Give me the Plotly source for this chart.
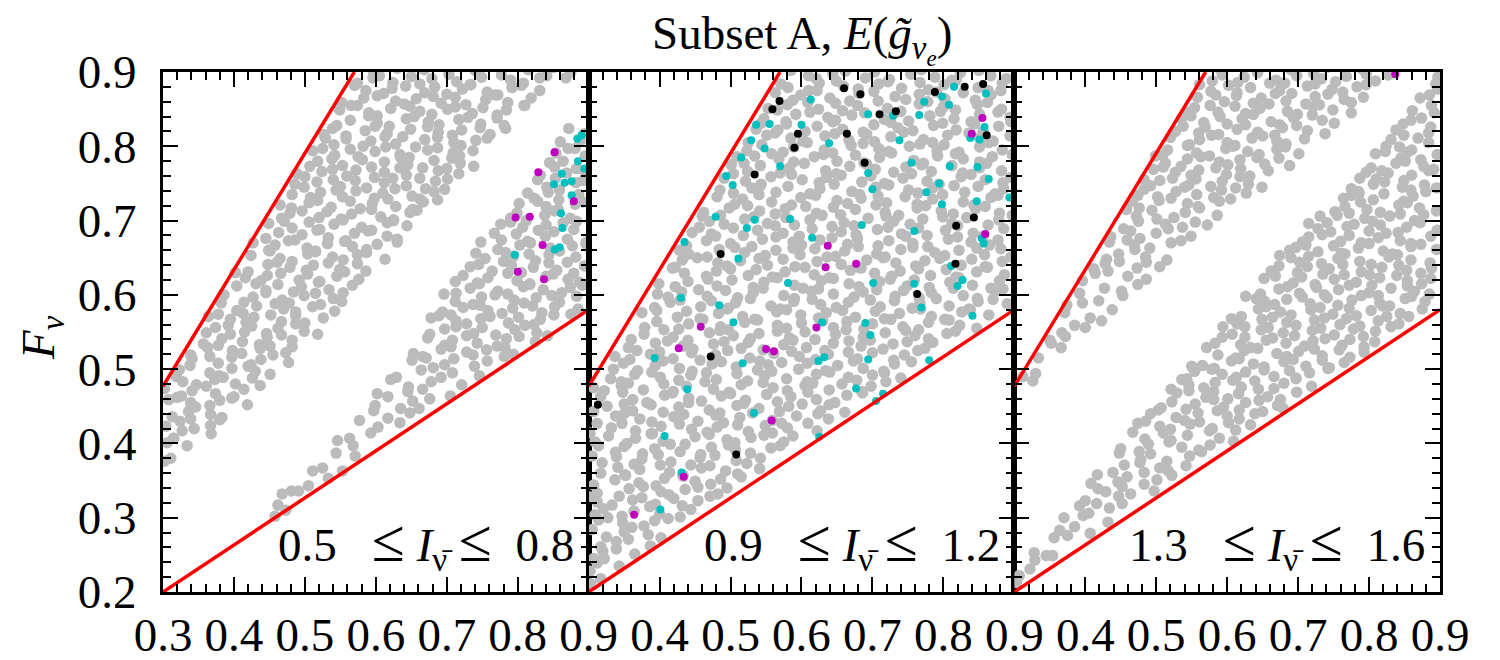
import plotly.graph_objects as go

# ---------------- data (coordinates in thousandths: x = I_nu, y = F_nu) ----------------
X_TICKS_FIRST = [0.3, 0.4, 0.5, 0.6, 0.7, 0.8, 0.9]
X_TICKS_OTHER = [0.4, 0.5, 0.6, 0.7, 0.8, 0.9]
X_TICK_TEXT_FIRST = ["0.3", "0.4", "0.5", "0.6", "0.7", "0.8", "0.9"]
X_TICK_TEXT_OTHER = ["0.4", "0.5", "0.6", "0.7", "0.8", "0.9"]
Y_TICKS = [0.2, 0.3, 0.4, 0.5, 0.6, 0.7, 0.8, 0.9]
Y_TICK_TEXT = ["0.2", "0.3", "0.4", "0.5", "0.6", "0.7", "0.8", "0.9"]

PANEL_LABELS = ["0.5", "0.8", "0.9", "1.2", "1.3", "1.6"]

# red boundary lines (same in every panel)
UPPER_LINE_X = [0.3, 0.5697]
UPPER_LINE_Y = [0.477, 0.9]
LOWER_LINE_X = [0.3, 0.9]
LOWER_LINE_Y = [0.2, 0.58]

# ---- panel 1 ----
P1_GRAY_UPPER = [
    (302,376),(311,380),(306,401),(315,407),(334,397),(315,407),(327,417),(344,420),(368,413),
    (304,423),(324,430),(339,433),(367,424),(380,432),(313,436),(336,443),(346,449),(367,439),(383,435),
    (308,459),(320,462),(339,455),(366,451),(380,458),(397,461),(419,452),
    (302,474),(326,464),(341,471),(361,477),(374,467),(400,463),(414,473),
    (319,490),(328,483),(347,479),(373,486),(385,489),(402,480),(426,488),(437,478),
    (323,499),(338,505),(366,495),(379,491),(397,501),(420,504),(430,497),(451,493),
    (341,514),(366,517),(378,508),(397,516),(424,506),(438,513),(455,519),(477,509),
    (339,519),(363,529),(378,532),(398,525),(411,521),(437,528),(451,531),(473,522),(482,530),
    (357,534),(383,541),(395,547),(412,537),(436,533),(447,543),(467,546),(482,539),
    (361,549),(374,556),(392,559),(415,550),(425,558),(446,548),(462,555),(487,561),(499,551),(518,547),
    (364,571),(378,574),(395,567),(417,563),(428,570),(452,573),(467,564),(487,572),(500,562),(526,569),
    (382,589),(404,579),(413,575),(432,585),(458,588),(470,581),(487,577),(511,584),(522,587),(542,578),
    (386,600),(414,590),(427,597),(445,603),(468,593),(478,589),(499,599),(515,602),(540,595),(552,591),
    (404,612),(431,615),(445,606),(462,614),(484,604),(495,611),(519,617),(534,607),(554,603),(567,613),
    (402,630),(416,623),(438,619),(447,626),(466,629),(492,620),(504,628),(521,618),(545,625),(556,631),(576,621),
    (420,631),(448,641),(461,644),(479,637),(502,633),(512,640),(533,643),(549,634),(574,642),(586,632),
    (424,653),(451,659),(465,649),(482,645),(504,655),(515,658),(539,651),(554,647),(574,654),(587,657),(613,648),
    (427,670),(449,660),(458,667),(477,673),(503,663),(515,659),(532,669),(556,672),(567,665),(587,661),(602,668),(630,671),
    (445,676),(463,684),(486,674),(496,681),(517,687),(533,677),(558,673),(570,683),(589,686),(616,679),(630,675),
    (449,696),(471,699),(482,690),(506,698),(521,688),(541,695),(554,701),(580,691),(594,687),(616,697),(625,700),(644,693),
    (467,703),(479,710),(496,713),(520,704),(531,712),(551,702),(566,709),(594,715),(607,705),(625,701),(648,711),(658,714),
    (465,721),(481,717),(506,724),(518,727),(537,718),(564,726),(578,716),(595,723),(617,729),(628,719),(652,715),(667,725),(687,728),
    (482,735),(508,731),(522,738),(544,741),(553,732),(572,740),(598,730),(610,737),(627,743),(651,733),(662,729),(682,739),(697,742),
    (486,749),(499,745),(517,752),(540,755),(550,746),(571,754),(587,744),(612,751),(624,757),(643,747),(670,743),(684,753),(701,756),
    (489,763),(500,759),(524,766),(539,769),(559,760),(572,768),(598,758),(612,765),(634,771),(643,761),(662,757),(688,767),(700,770),(717,763),
    (507,773),(518,780),(538,783),(553,774),(581,782),(594,772),(612,779),(635,785),(645,775),(666,771),(682,781),(707,784),(719,777),(738,773),
    (511,794),(525,797),(542,788),(564,796),(575,786),(599,793),(614,799),(634,789),(647,785),(673,795),(687,798),(709,791),(718,787),(737,794),
    (529,811),(541,802),(558,810),(582,800),(593,807),(613,813),(628,803),(656,799),(669,809),(687,812),(710,805),(720,801),(741,808),(757,811),
    (527,816),(539,824),(558,814),(585,821),(599,827),(616,817),(638,813),(649,823),(673,826),(688,819),(708,815),(721,822),(747,825),(761,816),(783,824),
    (545,828),(564,835),(590,841),(602,831),(619,827),(643,837),(654,840),(674,833),(689,829),(717,836),(730,839),(748,830),(771,838),(781,828),
    (549,849),(565,855),(590,845),(602,841),(621,851),(648,854),(662,847),(679,843),(701,850),(712,853),(736,844),(751,852),(771,842),(784,849),(810,855),
    (552,859),(574,855),(583,865),(602,868),(628,861),(640,857),(657,864),(681,867),(692,858),(712,866),(727,856),(755,863),(768,869),(786,859),(809,855),(819,865),
    (570,882),(586,875),(611,871),(623,878),(642,881),(669,872),(683,880),(700,870),(722,877),(733,883),(757,873),(772,869),(792,879),(805,882),(831,875),
    (574,885),(596,892),(605,895),(624,886),(650,894),(662,884),(679,891),(703,897),(714,887),(734,883),(749,893),(777,896),(790,889),(808,885),(831,892),(841,895),
    (868,892),(875,900),(596,902),(630,905),(668,903),(705,906),(740,902),(778,905),(815,903),(850,906),
]
P1_GRAY_LOWER = [
    (458,302),(462,317),(473,310),(468,332),(491,336),(481,336),(505,343),(511,363),(533,353),
    (525,367),(553,363),(544,387),(571,383),(546,404),(568,397),(563,407),(593,414),
    (577,431),(603,422),(634,428),(597,444),(617,434),(648,441),(661,447),
    (599,451),(635,447),(652,457),(676,460),(602,467),(617,463),(645,470),(666,473),(705,464),
    (621,486),(646,476),(678,483),(692,489),(721,479),(629,489),(664,499),(681,502),(708,495),(746,491),
    (651,512),(671,515),(697,506),(710,514),(739,504),(757,511),(781,517),
    (653,521),(666,517),(692,527),(706,530),(728,523),(737,519),(756,526),(782,529),(794,520),
    (673,542),(697,532),(708,539),(728,545),(743,535),(771,531),(784,541),(802,544),(825,537),
    (676,547),(697,554),(713,557),(738,548),(750,556),(769,546),(796,553),(810,559),(827,549),(842,545),
    (678,569),(689,572),(713,565),(728,561),(748,568),(761,571),(787,562),(801,570),(823,560),(832,567),(851,573),
    (694,577),(706,573),(723,583),(747,586),(758,579),(778,575),(793,582),(821,585),(834,576),(852,584),(875,574),(885,581),
    (696,601),(712,591),(737,587),(749,597),(768,600),(795,593),(809,589),(826,596),(848,599),(859,590),(883,598),
    (713,602),(733,609),(746,615),(772,605),(786,601),(808,611),(817,614),(836,607),(862,603),(874,610),(891,613),
    (712,618),(723,626),(743,616),(758,623),(786,629),(799,619),(817,615),(840,625),(850,628),(871,621),(887,617),
    (733,638),(745,641),(764,632),(791,640),(805,630),(822,637),(844,643),(855,633),(879,629),(894,639),
    (741,656),(754,649),(780,645),(794,652),(816,655),(825,646),(844,654),(870,644),(882,651),
    (748,671),(772,661),(783,657),(803,667),(818,670),(846,663),(859,659),(877,666),(896,669),
    (767,683),(777,674),(798,682),(814,672),(839,679),(851,685),(870,675),(897,671),
    (776,695),(790,698),(807,691),(829,687),(840,694),(864,697),(879,688),
    (799,710),(812,700),(838,707),(852,713),(874,703),(883,699),(790,703),
    (802,723),(828,726),(840,719),(857,715),(881,722),(892,725),
    (823,730),(843,738),(858,728),(886,735),(814,737),
    (828,755),(841,745),(859,741),(882,751),(892,754),
    (832,761),(853,757),(869,764),(894,767),(852,772),(864,780),(883,770),(845,778),
    (854,791),(881,797),(895,787),(871,797),(888,807),(860,806),(872,824),(894,817),
]
P1_CYAN = [(884,810),(890,815),(851,749),(866,751),(876,753),(862,763),(885,780),(876,734),
           (861,710),(863,690),(852,661),(859,664),(796,654),(894,770)]
P1_MAGENTA = [(852,792),(829,765),(797,704),(817,705),(879,726),(835,667),(837,621),(800,631)]

# ---- panel 2 ----
P2_GRAY = [
    (303,211),(302,228),(317,218),(312,239),(322,245),(343,235),
    (307,245),(320,255),(339,258),(365,251),(317,261),(339,268),(356,271),(387,262),
    (305,284),(325,274),(350,281),(361,287),(384,277),(402,273),
    (314,297),(327,300),(348,293),(378,289),(393,296),(412,299),
    (309,304),(321,312),(347,302),(364,309),(386,315),(400,305),(429,301),(444,311),
    (302,328),(312,321),(333,317),(362,324),(375,327),(394,318),(420,326),(432,316),(454,323),(471,329),
    (312,333),(343,329),(357,339),(377,342),(402,335),(413,331),(436,338),(454,341),(482,332),(495,340),
    (307,344),(337,351),(352,357),(371,347),(395,343),(407,353),(433,356),(450,349),(472,345),(486,352),(515,355),
    (317,360),(341,368),(351,358),(372,365),(401,371),(414,361),(433,357),(459,367),(471,370),(493,363),(510,359),(541,366),
    (305,383),(319,374),(339,382),(364,372),(375,379),(398,385),(416,375),(444,371),(457,381),(478,384),(508,377),(523,373),(542,380),
    (314,397),(338,388),(350,396),(376,386),(393,393),(415,399),(429,389),(458,385),(473,395),(497,398),(507,391),(528,387),(557,394),(570,397),
    (309,402),(328,410),(354,400),(366,407),(388,413),(405,403),(436,399),(450,409),(470,412),(495,405),(506,401),(529,408),(547,411),(575,402),(588,410),
    (302,414),(332,421),(347,427),(366,417),(390,413),(402,423),(428,426),(445,419),(467,415),(481,422),(510,425),(525,416),(549,424),(559,414),(580,421),(609,427),(622,417),
    (312,427),(338,437),(350,440),(372,433),(389,429),(420,436),(434,439),(454,430),(479,438),(490,428),(513,435),(531,441),(559,431),(572,427),(593,437),(623,440),(638,433),
    (307,443),(326,450),(350,453),(362,444),(388,452),(405,442),(427,449),(441,455),(470,445),(485,441),(509,451),(519,454),(540,447),(569,443),(582,450),(601,453),(627,444),(639,452),(661,442),
    (317,463),(348,469),(362,459),(382,455),(407,465),(418,468),(441,461),(459,457),(487,464),(500,467),(521,458),(551,466),(566,456),(585,463),(609,469),(621,459),(647,455),(664,465),(686,468),
    (307,475),(322,471),(346,478),(356,481),(377,472),(406,480),(419,470),(438,477),(464,483),(476,473),(498,469),(515,479),(546,482),(560,475),(580,471),(605,478),(616,481),(639,472),(657,480),(685,470),(698,477),(719,483),
    (331,487),(346,483),(365,493),(389,496),(401,489),(427,485),(444,492),(466,495),(480,486),(509,494),(524,484),(548,491),(558,497),(579,487),(608,483),(621,493),(640,496),(666,489),(678,485),(700,492),(717,495),(740,488),
    (335,500),(349,508),(369,498),(394,505),(405,511),(428,501),(446,497),(474,507),(487,510),(508,503),(538,499),(553,506),(572,509),(596,500),(608,508),(634,498),(651,505),(673,511),(687,501),(716,497),(731,507),(755,510),
    (337,517),(358,513),(387,520),(400,523),(419,514),(445,522),(457,512),(479,519),(496,525),(527,515),(541,511),(561,521),(586,524),(597,517),(620,513),(638,520),(666,523),(679,514),(700,522),(730,512),(745,519),(764,525),
    (356,529),(368,525),(394,535),(411,538),(433,531),(447,527),(476,534),(491,537),(515,528),(525,536),(546,526),(575,533),(588,539),(607,529),(633,525),(645,535),(667,538),(684,531),(715,527),(729,534),(749,537),(774,528),(785,536),
    (360,540),(378,547),(406,553),(419,543),(440,539),(470,549),(485,552),(504,545),(528,541),(540,548),(566,551),(583,542),(605,550),(619,540),(648,547),(663,553),(687,543),(697,539),(718,549),(747,552),(760,545),(779,541),(805,548),(817,551),
    (379,556),(396,564),(427,554),(441,561),(461,567),(486,557),(497,553),(520,563),(538,566),(566,559),(579,555),(600,562),(630,565),(645,556),(664,564),(688,554),(700,561),(726,567),(743,557),(765,553),(779,563),(808,566),(823,559),(847,555),
    (375,576),(396,579),(425,570),(438,578),(457,568),(483,575),(495,581),(517,571),(534,567),(565,577),(579,580),(599,573),(624,569),(635,576),(658,579),(676,570),(704,578),(717,568),(738,575),(768,581),(783,571),(802,567),(826,577),(838,580),(864,573),
    (393,583),(415,590),(429,593),(458,584),(473,592),(497,582),(507,589),(528,595),(557,585),(570,581),(589,591),(615,594),(627,587),(649,583),(666,590),(697,593),(711,584),(731,592),(756,582),(767,589),(790,595),(808,585),(836,581),(849,591),(870,594),(890,588),
    (397,601),(412,597),(431,604),(455,607),(467,598),(493,606),(510,596),(532,603),(546,609),(575,599),(590,595),(614,605),(624,608),(645,601),(674,597),(687,604),(706,607),(732,598),(744,606),(766,596),(783,603),(814,609),(828,599),(848,595),(873,605),(884,608),
    (399,615),(422,611),(440,618),(468,621),(481,612),(502,620),(532,610),(547,617),(566,623),(590,613),(602,609),(628,619),(645,622),(667,615),(681,611),(710,618),(725,621),(749,612),(759,620),(780,610),(809,617),(822,623),(841,613),(867,609),(879,619),
    (418,636),(435,629),(466,625),(480,632),(500,635),(525,626),(536,634),(559,624),(577,631),(605,637),(618,627),(639,623),(669,633),(684,636),(703,629),(727,625),(739,632),(765,635),(782,626),(804,634),(818,624),(847,631),(862,637),(886,627),
    (422,637),(432,647),(453,650),(482,643),(495,639),(514,646),(540,649),(552,640),(574,648),(591,638),(622,645),(636,651),(656,641),(681,637),(692,647),(715,650),(733,643),(761,639),(774,646),(795,649),(825,640),(840,648),(859,638),(883,645),(895,651),
    (428,660),(441,655),(467,651),(484,661),(506,664),(520,657),(549,653),(564,660),(588,663),(598,654),(619,662),(648,652),(661,659),(680,665),(706,655),(718,651),(740,661),(757,664),(788,657),(802,653),(822,660),(847,663),(858,654),(881,662),
    (438,666),(466,673),(479,679),(500,669),(530,665),(545,675),(564,678),(588,671),(600,667),(626,674),(643,677),(665,668),(679,676),(708,666),(723,673),(747,679),(757,669),(778,665),(807,675),(820,678),(839,671),(865,667),(877,674),
    (446,684),(456,691),(473,682),(504,690),(518,680),(538,687),(563,693),(574,683),(597,679),(615,689),(643,692),(656,685),(677,681),(707,688),(722,691),(741,682),(765,690),(777,680),(803,687),(820,693),(842,683),(856,679),(885,689),
    (460,706),(470,699),(491,695),(520,702),(533,705),(552,696),(578,704),(590,694),(612,701),(629,707),(660,697),(674,693),(694,703),(719,706),(730,699),(753,695),(771,702),(799,705),(812,696),(833,704),(863,694),(878,701),(897,707),
    (462,711),(486,707),(498,717),(524,720),(541,713),(563,709),(577,716),(606,719),(621,710),(645,718),(655,708),(676,715),(705,721),(718,711),(737,707),(763,717),(775,720),(797,713),(814,709),(845,716),(859,719),(879,710),
    (481,732),(506,722),(517,729),(540,735),(558,725),(586,721),(599,731),(620,734),(650,727),(665,723),(684,730),(708,733),(720,724),(746,732),(763,722),(785,729),(799,735),(828,725),(843,721),(867,731),(877,734),
    (485,741),(504,737),(530,744),(542,747),(564,738),(581,746),(612,736),(626,743),(646,749),(671,739),(682,735),(705,745),(723,748),(751,741),(764,737),(785,744),(815,747),(830,738),(849,746),(873,736),(885,743),
    (491,757),(504,763),(521,753),(543,749),(557,759),(586,762),(601,755),(625,751),(635,758),(656,761),(685,752),(698,760),(717,750),(743,757),(755,763),(777,753),(794,749),(825,759),(839,762),(859,755),(884,751),(895,758),
    (501,775),(524,766),(542,774),(570,764),(583,771),(604,777),(634,767),(649,763),(668,773),(692,776),(704,769),(730,765),(747,772),(769,775),(783,766),(812,774),(827,764),(851,771),(861,777),(882,767),
    (509,786),(519,777),(534,787),(558,790),(568,783),(589,779),(618,786),(631,789),(650,780),(676,788),(688,778),(710,785),(727,791),(758,781),(772,777),(792,787),(817,790),(828,783),(851,779),(869,786),(897,789),
    (523,794),(544,802),(574,792),(589,799),(608,805),(632,795),(644,791),(670,801),(687,804),(709,797),(723,793),(752,800),(767,803),(791,794),(801,802),(822,792),(851,799),(864,805),(883,795),
    (525,805),(551,815),(563,818),(585,811),(602,807),(633,814),(647,817),(667,808),(692,816),(703,806),(726,813),(744,819),(772,809),(785,805),(806,815),(836,818),(851,811),(870,807),(894,814),
    (536,823),(543,831),(567,822),(579,830),(605,820),(622,827),(644,833),(658,823),(687,819),(702,829),(726,832),(736,825),(757,821),(786,828),(799,831),(818,822),(844,830),(856,820),(878,827),(895,833),
    (547,837),(578,833),(592,843),(612,846),(637,839),(648,835),(671,842),(689,845),(717,836),(730,844),(751,834),(781,841),(796,847),(815,837),(839,833),(851,843),(877,846),(894,839),
    (553,851),(566,849),(580,856),(609,859),(624,850),(648,858),(658,848),(679,855),(708,861),(721,851),(740,847),(766,857),(778,860),(800,853),(817,849),(848,856),(862,859),(882,850),
    (563,872),(588,862),(599,869),(622,875),(640,865),(668,861),(681,871),(702,874),(732,867),(747,863),(766,870),(790,873),(802,864),(828,872),(845,862),(867,869),(881,875),
    (571,884),(581,879),(610,875),(625,885),(649,888),(659,881),(680,877),(709,884),(722,887),(741,878),(767,886),(779,876),(801,883),(818,889),(849,879),(863,875),(883,885),
    (585,902),(610,895),(621,891),(644,898),(662,901),(690,892),(703,900),(724,890),(754,897),(769,903),(788,893),(812,889),(824,899),(850,902),(867,895),(889,891),
]
P2_CYAN = [
    (613,863),(860,871),(815,880),(798,867),(773,860),(808,856),(766,842),(694,843),(729,841),
    (536,829),(555,830),(600,829),(858,826),(838,811),(851,809),(529,808),(738,808),(639,804),
    (548,797),(515,785),(570,773),(755,778),(809,773),(848,772),(494,760),(503,748),(694,764),
    (700,742),(864,756),(776,738),(798,722),(794,750),(847,726),(893,731),(479,705),(534,701),
    (584,702),(523,690),(685,694),(759,686),(615,677),(854,676),(857,669),(435,671),(511,649),
    (811,639),(581,616),(701,616),(759,615),(827,620),(820,612),(430,596),(484,586),(769,583),
    (841,572),(504,563),(629,563),(690,562),(697,546),
    (393,515),(517,508),(632,516),(624,511),(694,513),(439,473),(677,474),(715,467),(705,457),
    (407,410),(625,409),(533,441),(431,361),(401,311),(780,512),
]
P2_MAGENTA = [(855,838),(840,817),(637,666),(634,637),(677,642),(859,682),(458,557),(621,556),
              (427,528),(550,527),(561,524),(364,304),(434,355),(558,431)]
P2_BLACK = [(569,861),(559,850),(683,870),(788,873),(830,880),(856,884),(733,847),(710,843),
            (595,817),(664,817),(861,815),(590,798),(689,778),(534,762),(843,704),(818,693),
            (817,642),(486,655),(763,601),(660,878),(472,517),(508,385),(313,452)]

# ---- panel 3 ----
P3_GRAY_UPPER = [
    (312,490),(326,484),(330,494),(334,515),(352,535),(366,529),(350,539),(372,544),
    (367,549),(385,559),(400,556),(371,576),(407,569),(423,565),
    (374,586),(396,589),(438,580),(392,602),(419,592),(453,599),
    (396,619),(427,609),(451,605),(474,614),(414,629),(432,632),(460,625),(486,621),
    (412,635),(428,642),(448,645),(473,636),(486,644),(505,638),
    (430,648),(447,655),(470,661),(485,651),(515,647),
    (434,671),(459,674),(469,667),(491,663),(521,670),(535,673),
    (436,678),(464,686),(477,676),(500,683),(517,689),(549,679),
    (454,689),(475,699),(501,702),(513,695),(537,691),(555,698),(572,694),
    (458,715),(472,706),(494,714),(525,704),(541,711),(561,717),(586,707),
    (476,717),(466,726),(504,727),(521,730),(544,723),(559,719),(589,726),(605,729),
    (474,734),(483,742),(502,732),(528,739),(540,745),(557,735),(581,731),(592,741),(612,744),(627,737),
    (492,747),(483,755),(505,754),(523,757),(546,748),(556,756),(577,746),(593,753),(618,759),(630,749),(649,745),
    (496,769),(510,772),(527,765),(549,761),(560,768),(584,771),(599,762),(619,770),(632,760),(658,767),
    (499,787),(513,777),(535,773),(544,783),(563,786),(589,779),(601,775),(618,782),(642,785),(653,776),(673,784),(688,774),
    (509,788),(516,795),(544,801),(557,791),(575,787),(598,797),(608,800),(629,793),(645,789),(670,796),(682,799),(701,790),
    (520,812),(547,802),(561,809),(578,815),(600,805),(611,801),(635,811),(650,814),(670,807),(683,803),(709,810),
    (527,820),(538,827),(560,818),(569,826),(588,816),(614,823),(626,829),(643,819),(667,815),(678,825),(698,828),(713,821),(738,817),
    (536,838),(549,841),(567,832),(590,840),(600,830),(621,837),(637,843),(662,833),(674,829),(693,839),(720,842),(734,835),(751,831),
    (546,846),(554,852),(576,855),(587,846),(611,854),(626,844),(646,851),(659,857),(685,847),(699,843),(721,853),(730,856),(749,849),(775,845),
    (558,866),(584,869),(596,860),(613,868),(637,858),(648,865),(668,871),(683,861),(711,857),(724,867),(742,870),(765,863),(775,859),(792,866),
    (561,883),(577,874),(602,882),(614,872),(633,879),(660,885),(674,875),(691,871),(713,881),(724,884),(748,877),(763,873),(783,880),(796,883),
    (579,888),(593,896),(615,886),(624,893),(643,899),(669,889),(681,885),(698,895),(722,898),(733,891),(753,887),(768,894),(796,897),(809,888),(827,896),
    (590,904),(640,905),(690,903),(740,906),(790,904),(825,903),
]
P3_GRAY_LOWER = [
    (303,213),(307,222),(322,231),(329,243),(345,249),(328,253),(354,249),(356,273),(375,276),
    (364,283),(385,288),(407,279),(370,300),(397,303),(432,294),
    (392,316),(405,306),(434,313),(452,319),(400,323),(416,319),(447,329),(464,332),
    (408,346),(418,339),(429,335),(452,342),(483,345),(497,336),
    (417,358),(446,348),(459,355),(483,361),(501,351),(522,357),
    (439,361),(455,371),(477,374),(505,367),(517,363),(542,370),
    (448,387),(478,378),(492,386),(515,376),(547,383),(564,389),
    (450,393),(476,389),(489,399),(518,402),(536,395),(560,391),(576,398),
    (467,415),(484,406),(510,414),(521,404),(544,411),(575,417),(589,407),(609,403),
    (474,427),(485,430),(505,423),(520,419),(548,426),(561,429),(579,420),(602,428),(612,418),(633,425),
    (492,440),(503,445),(528,435),(540,431),(559,441),(586,444),(600,437),(617,433),(639,440),(650,443),
    (507,448),(522,456),(542,446),(555,453),(581,459),(595,449),(617,445),(626,455),(645,458),(671,451),(679,447),
    (521,473),(529,468),(546,471),(570,462),(581,470),(601,460),(616,467),(644,473),(657,463),(675,459),(698,469),
    (536,486),(546,479),(567,475),(583,482),(608,485),(620,476),(639,484),(666,474),(680,481),(697,487),(719,477),
    (543,487),(554,497),(578,500),(593,493),(613,489),(626,496),(652,499),(666,490),(688,498),(697,488),(716,495),(742,501),
    (550,504),(565,505),(582,501),(606,511),(617,514),(637,507),(652,503),(680,510),(693,513),(711,504),(734,512),(744,502),(765,509),
    (571,529),(587,519),(612,515),(624,525),(643,528),(670,521),(684,517),(701,524),(723,527),(734,518),(758,526),(773,516),(793,523),
    (583,535),(593,543),(619,533),(633,529),(655,539),(664,542),(683,535),(709,531),(721,538),(738,541),(762,532),(773,540),(793,530),(808,537),
    (594,557),(607,547),(625,543),(648,553),(658,556),(679,549),(695,545),(720,552),(732,555),(751,546),(778,554),(792,544),(809,551),(831,557),
    (606,568),(614,561),(625,557),(649,567),(664,570),(684,563),(697,559),(723,566),(737,569),(759,560),(768,568),(787,558),(813,565),(825,571),(842,561),
    (620,571),(644,581),(655,584),(675,577),(690,573),(718,580),(731,583),(749,574),(772,582),(782,572),(803,579),(819,585),(844,575),(856,571),(875,581),
    (626,598),(641,595),(653,591),(667,587),(684,594),(706,597),(717,588),(741,596),(756,586),(776,593),(789,599),(815,589),(829,585),(851,595),(860,598),(879,591),
    (647,601),(673,608),(685,611),(702,602),(726,610),(737,600),(757,607),(772,613),(800,603),(813,599),(831,609),(854,612),(864,605),(885,601),
    (652,622),(668,625),(693,616),(705,624),(724,614),(751,621),(765,627),(782,617),(804,613),(815,623),(839,626),(854,619),(874,615),(887,622),
    (662,632),(673,639),(699,630),(713,638),(735,628),(744,635),(763,641),(789,631),(801,627),(818,637),(842,640),(853,633),(873,629),(888,636),
    (674,653),(690,650),(702,644),(715,652),(733,642),(756,649),(766,655),(787,645),(803,641),(828,651),(840,654),(859,647),(886,643),
    (688,660),(697,664),(711,667),(728,658),(750,666),(761,656),(785,663),(800,669),(820,659),(833,655),(859,665),(873,668),(895,661),
    (706,671),(715,678),(734,681),(760,672),(772,680),(789,670),(813,677),(824,683),(844,673),(859,669),(887,679),
    (715,696),(728,689),(746,685),(769,692),(779,695),(800,686),(816,694),(841,684),(853,691),(872,697),(896,687),
    (731,706),(741,697),(755,707),(772,710),(794,703),(805,699),(829,706),(844,709),(864,700),(877,708),
    (752,712),(766,719),(788,725),(797,715),(816,711),(842,721),(854,724),(871,717),(895,713),
    (764,730),(775,734),(786,737),(806,728),(821,736),(849,726),(862,733),(880,739),
    (775,743),(785,739),(806,749),(822,752),(847,745),(859,741),(878,748),(895,744),
    (787,757),(796,765),(810,756),(827,764),(849,754),(860,761),(884,767),
    (803,771),(818,767),(838,777),(851,780),(877,773),(891,769),
    (809,790),(823,793),(845,784),(854,792),(873,782),(896,789),
    (824,800),(831,809),(843,799),(860,795),(884,805),(838,822),(849,815),(869,811),(884,818),
    (848,830),(859,835),(887,826),(861,848),(874,838),(892,845),(872,865),(888,855),(885,869),(896,877),(894,884),(897,893),
]
P3_MAGENTA = [(837,897)]

# ---------------- figure ----------------
FONT = "Liberation Serif"
GRAY = "#bbbbbb"
CYAN = "#00bfbf"
MAGENTA = "#bf00bf"
MS = 11.5

fig = go.Figure()


def add_pts(pts, color, k, size=MS):
    if not pts:
        return
    fig.add_trace(go.Scatter(
        x=[p[0] / 1000 for p in pts], y=[p[1] / 1000 for p in pts],
        mode="markers", marker=dict(size=size, color=color, line=dict(width=0)),
        xaxis="x" if k == 1 else f"x{k}", yaxis="y" if k == 1 else f"y{k}",
        showlegend=False, hoverinfo="skip"))


def add_lines(k):
    for lx, ly in ((UPPER_LINE_X, UPPER_LINE_Y), (LOWER_LINE_X, LOWER_LINE_Y)):
        fig.add_trace(go.Scatter(
            x=lx, y=ly, mode="lines", line=dict(color="#ff0000", width=3.5),
            xaxis="x" if k == 1 else f"x{k}", yaxis="y" if k == 1 else f"y{k}",
            showlegend=False, hoverinfo="skip"))


add_pts(P1_GRAY_UPPER, GRAY, 1)
add_pts(P1_GRAY_LOWER, GRAY, 1)
add_pts(P1_CYAN, CYAN, 1, 8)
add_pts(P1_MAGENTA, MAGENTA, 1, 8)
add_lines(1)

add_pts(P2_GRAY, GRAY, 2)
add_pts(P2_CYAN, CYAN, 2, 8)
add_pts(P2_MAGENTA, MAGENTA, 2, 8)
add_pts(P2_BLACK, "#000000", 2, 8)
add_lines(2)

add_pts(P3_GRAY_UPPER, GRAY, 3)
add_pts(P3_GRAY_LOWER, GRAY, 3)
add_pts(P3_MAGENTA, MAGENTA, 3, 8)
add_lines(3)

tickfont = dict(family=FONT, size=47, color="black")
minor = dict(ticks="inside", ticklen=8, tickwidth=1.5, tickcolor="black", dtick=0.02, tick0=0.2)


def xaxis(domain, vals, texts, anchor):
    return dict(domain=domain, range=[0.3, 0.9], anchor=anchor, automargin=False,
                tickmode="array", tickvals=vals, ticktext=texts,
                ticks="inside", ticklen=15, tickwidth=2, tickcolor="black",
                minor=minor, showline=True, linewidth=3, linecolor="black",
                mirror="allticks", showgrid=False, zeroline=False,
                tickfont=tickfont, ticklabelstandoff=0)


def yaxis(anchor, show):
    return dict(domain=[0, 1], range=[0.2, 0.9], anchor=anchor, automargin=False,
                tickmode="array", tickvals=Y_TICKS, ticktext=Y_TICK_TEXT,
                showticklabels=show,
                ticks="inside", ticklen=15, tickwidth=2, tickcolor="black",
                minor=minor, showline=True, linewidth=3, linecolor="black",
                mirror="allticks", showgrid=False, zeroline=False,
                tickfont=tickfont, ticklabelstandoff=14)


third = 1 / 3
NB = "\u00a0"
LE = "<span style='font-size:60px'>≤</span>"
ann_font = dict(family=FONT, size=47, color="black")
annotations = [
    dict(text="Subset A, <i>E</i>(<i>g̃</i><sub><i>ν</i><sub><i>e</i></sub></sub>)",
         x=0.5, y=1.064, xref="paper", yref="paper", xanchor="center", yanchor="middle",
         showarrow=False, font=dict(family=FONT, size=47, color="black")),
    dict(text="<i>F</i><sub><i>ν</i></sub>", x=-0.095, y=0.49, xref="paper", yref="paper",
         textangle=-90, xanchor="center", yanchor="middle", showarrow=False, font=ann_font),
]
for k in range(3):
    lo, hi = PANEL_LABELS[2 * k], PANEL_LABELS[2 * k + 1]
    annotations.append(dict(
        text=f"{lo}{NB}{NB}{NB}{LE}{NB}<i>I</i><sub>ν̄</sub>{NB}{LE}{NB}{NB}{hi}",
        x=0.882, y=0.216, xref="x" if k == 0 else f"x{k+1}", yref="y" if k == 0 else f"y{k+1}",
        xanchor="right", yanchor="bottom", showarrow=False, font=ann_font))

# the page adds an 8 px body margin, so the figure is 8 px smaller on each side
fig.update_layout(
    width=1492, height=652, autosize=False,
    margin=dict(l=155, r=60, t=64, b=68),
    paper_bgcolor="white", plot_bgcolor="white",
    xaxis=xaxis([0, third], X_TICKS_FIRST, X_TICK_TEXT_FIRST, "y"),
    xaxis2=xaxis([third, 2 * third], X_TICKS_OTHER, X_TICK_TEXT_OTHER, "y2"),
    xaxis3=xaxis([2 * third, 1], X_TICKS_OTHER, X_TICK_TEXT_OTHER, "y3"),
    yaxis=yaxis("x", True),
    yaxis2=yaxis("x2", False),
    yaxis3=yaxis("x3", False),
    annotations=annotations,
    font=dict(family=FONT, color="black"),
)

fig.write_html("out.html")
